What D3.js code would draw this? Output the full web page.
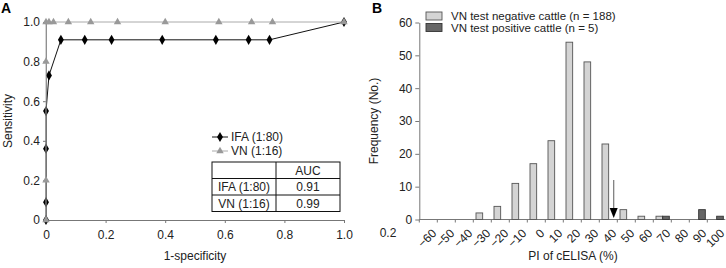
<!DOCTYPE html>
<html lang="en">
<head>
  <meta charset="UTF-8">
  <title>ROC and cELISA histogram</title>
  <script src="https://d3js.org/d3.v7.min.js"></script>
  <style>
    body { margin: 0; background: #fff; }
    svg { display: block; font-family: "Liberation Sans", Arial, sans-serif; }
    .tick text { font-size: 12px; fill: #222; }
    .axis path, .axis line { stroke: #777; }
  </style>
</head>
<body>
  <svg id="chart" width="726" height="268"></svg>

  <script>
    // Panel A: ROC curves
    const ifaFpr = [0, 0, 0, 0, 0.01, 0.05, 0.13, 0.22, 0.39, 0.57, 0.68, 0.75, 1];
    const ifaTpr = [0, 0.09, 0.36, 0.55, 0.73, 0.91, 0.91, 0.91, 0.91, 0.91, 0.91, 0.91, 1];
    const vnFpr = [0, 0, 0, 0, 0.01, 0.025, 0.075, 0.15, 0.24, 0.40, 0.58, 0.69, 0.76, 1];
    const vnTpr = [0, 0.2, 0.8, 1, 1, 1, 1, 1, 1, 1, 1, 1, 1, 1];
    const rocTicks = [0, 0.2, 0.4, 0.6, 0.8, 1.0];
    const aucRows = [["IFA (1:80)", "0.91"], ["VN (1:16)", "0.99"]];

    // Panel B: histogram of PI
    const piBins = [-60, -50, -40, -30, -20, -10, 0, 10, 20, 30, 40, 50, 60, 70, 80, 90, 100];
    const negCounts = [0, 0, 0, 2, 4, 11, 17, 24, 54, 48, 23, 3, 1, 1, 0, 0, 0];
    const posCounts = [0, 0, 0, 0, 0, 0, 0, 0, 0, 0, 0, 0, 0, 1, 0, 3, 1];
    const freqTicks = [0, 10, 20, 30, 40, 50, 60];
    const cutoff = 40;

    const svg = d3.select("#chart");

    // ---------- Panel A ----------
    const xA = d3.scaleLinear().domain([0, 1]).range([46, 344]);
    const yA = d3.scaleLinear().domain([0, 1]).range([220, 22]);
    const fmtA = d => d === 0 ? "0" : d3.format(".1f")(d);

    svg.append("g").attr("class", "axis")
      .attr("transform", "translate(0,220)")
      .call(d3.axisBottom(xA).tickValues(rocTicks).tickFormat(fmtA).tickSize(3).tickSizeOuter(0))
      .call(g => g.selectAll(".tick text").attr("dy", "1.1em"));

    svg.append("g").attr("class", "axis")
      .attr("transform", "translate(46,0)")
      .call(d3.axisLeft(yA).tickValues(rocTicks).tickFormat(fmtA).tickSize(3).tickSizeOuter(0))
      .call(g => g.selectAll(".tick text").attr("x", -6));

    const line = d3.line().x(d => xA(d[0])).y(d => yA(d[1]));
    const ifaPts = ifaFpr.map((f, i) => [f, ifaTpr[i]]);
    const vnPts = vnFpr.map((f, i) => [f, vnTpr[i]]);

    svg.append("path").datum(ifaPts).attr("d", line)
      .attr("fill", "none").attr("stroke", "#111").attr("stroke-width", 1);
    svg.append("g").selectAll("path").data(ifaPts).join("path")
      .attr("transform", d => `translate(${xA(d[0])},${yA(d[1])})`)
      .attr("d", d3.symbol(d3.symbolDiamond, 30)())
      .attr("fill", "#000");

    svg.append("path").datum(vnPts).attr("d", line)
      .attr("fill", "none").attr("stroke", "#aaa").attr("stroke-width", 1);
    svg.append("g").selectAll("path").data(vnPts).join("path")
      .attr("transform", d => `translate(${xA(d[0])},${yA(d[1])})`)
      .attr("d", d3.symbol(d3.symbolTriangle, 24)())
      .attr("fill", "#999");

    svg.append("text").attr("x", 195).attr("y", 260).attr("text-anchor", "middle")
      .attr("font-size", 12).attr("fill", "#222").text("1-specificity");
    svg.append("text").attr("transform", "translate(12,121) rotate(-90)")
      .attr("text-anchor", "middle").attr("font-size", 12).attr("fill", "#222").text("Sensitivity");
    svg.append("text").attr("x", 1).attr("y", 13).attr("font-size", 14)
      .attr("font-weight", "bold").text("A");

    // legend A
    const legA = svg.append("g");
    legA.append("line").attr("x1", 212).attr("x2", 228).attr("y1", 137).attr("y2", 137).attr("stroke", "#111");
    legA.append("path").attr("transform", "translate(220,137)").attr("d", d3.symbol(d3.symbolDiamond, 30)()).attr("fill", "#000");
    legA.append("text").attr("x", 231).attr("y", 141).attr("font-size", 12).attr("fill", "#222").text("IFA (1:80)");
    legA.append("line").attr("x1", 212).attr("x2", 228).attr("y1", 151).attr("y2", 151).attr("stroke", "#aaa");
    legA.append("path").attr("transform", "translate(220,151)").attr("d", d3.symbol(d3.symbolTriangle, 24)()).attr("fill", "#999");
    legA.append("text").attr("x", 231).attr("y", 155).attr("font-size", 12).attr("fill", "#222").text("VN (1:16)");

    // AUC table
    const tb = svg.append("g").attr("font-size", 12).attr("fill", "#222");
    const tX0 = 212, tX1 = 276, tX2 = 340, rowY = [162, 178.5, 195, 211.5];
    tb.append("rect").attr("x", tX0).attr("y", rowY[0]).attr("width", tX2 - tX0).attr("height", rowY[3] - rowY[0])
      .attr("fill", "none").attr("stroke", "#111");
    tb.append("line").attr("x1", tX1).attr("x2", tX1).attr("y1", rowY[0]).attr("y2", rowY[3]).attr("stroke", "#111");
    [rowY[1], rowY[2]].forEach(y => tb.append("line").attr("x1", tX0).attr("x2", tX2).attr("y1", y).attr("y2", y).attr("stroke", "#111"));
    tb.append("text").attr("x", (tX1 + tX2) / 2).attr("y", rowY[1] - 4).attr("text-anchor", "middle").text("AUC");
    aucRows.forEach((r, i) => {
      tb.append("text").attr("x", (tX0 + tX1) / 2).attr("y", rowY[i + 2] - 4).attr("text-anchor", "middle").text(r[0]);
      tb.append("text").attr("x", (tX1 + tX2) / 2).attr("y", rowY[i + 2] - 4).attr("text-anchor", "middle").text(r[1]);
    });

    // ---------- Panel B ----------
    const xB = d3.scaleBand().domain(piBins).range([419.3, 725.3]).padding(0);
    const bw = xB.bandwidth();
    const yB = d3.scaleLinear().domain([0, 60]).range([219.5, 22.5]);

    svg.append("g").attr("class", "axis")
      .attr("transform", "translate(419.3,0)")
      .call(d3.axisLeft(yB).tickValues(freqTicks).tickSize(4).tickSizeOuter(0))
      .call(g => g.selectAll(".tick text").attr("x", -7));

    const xAxisB = svg.append("g").attr("class", "axis");
    xAxisB.append("line").attr("x1", 419.3).attr("x2", 725.3).attr("y1", 219.5).attr("y2", 219.5);
    xAxisB.selectAll(".bt").data(piBins).join("line").attr("class", "bt")
      .attr("x1", d => xB(d)).attr("x2", d => xB(d)).attr("y1", 219.5).attr("y2", 222.5);
    xAxisB.selectAll("text").data(piBins).join("text")
      .attr("transform", d => `translate(${xB(d) + bw / 2 + 3},${228}) rotate(-45)`)
      .attr("text-anchor", "end").attr("font-size", 12).attr("fill", "#222")
      .attr("dy", "0.7em")
      .text(d => d < 0 ? "\u2212" + Math.abs(d) : d);

    svg.append("g").selectAll("rect").data(piBins.map((b, i) => [b, negCounts[i]]).filter(d => d[1] > 0)).join("rect")
      .attr("x", d => xB(d[0]) + bw * 0.15).attr("width", bw * 0.37)
      .attr("y", d => yB(d[1])).attr("height", d => yB(0) - yB(d[1]))
      .attr("fill", "#d4d4d4").attr("stroke", "#555").attr("stroke-width", 0.9);
    svg.append("g").selectAll("rect").data(piBins.map((b, i) => [b, posCounts[i]]).filter(d => d[1] > 0)).join("rect")
      .attr("x", d => xB(d[0]) + bw * 0.52).attr("width", bw * 0.37)
      .attr("y", d => yB(d[1])).attr("height", d => yB(0) - yB(d[1]))
      .attr("fill", "#666").attr("stroke", "#333").attr("stroke-width", 0.9);

    // cut-off arrow
    const arrX = xB(cutoff) + bw * 0.8;
    svg.append("line").attr("x1", arrX).attr("x2", arrX).attr("y1", 180).attr("y2", 210)
      .attr("stroke", "#777").attr("stroke-width", 1.2);
    svg.append("path").attr("d", `M${arrX - 4},${208}L${arrX + 4},${208}L${arrX},${218}Z`).attr("fill", "#000");

    svg.append("text").attr("x", 573).attr("y", 260).attr("text-anchor", "middle")
      .attr("font-size", 12).attr("fill", "#222").text("PI of cELISA (%)");
    svg.append("text").attr("transform", "translate(378,121) rotate(-90)")
      .attr("text-anchor", "middle").attr("font-size", 12).attr("fill", "#222").text("Frequency (No.)");
    svg.append("text").attr("x", 388).attr("y", 237).attr("text-anchor", "middle")
      .attr("font-size", 12).attr("fill", "#222").text("0.2");
    svg.append("text").attr("x", 372).attr("y", 13).attr("font-size", 14)
      .attr("font-weight", "bold").text("B");

    // legend B
    const legB = [["VN test negative cattle (n = 188)", "#d4d4d4", "#555"], ["VN test positive cattle (n = 5)", "#666", "#333"]];
    legB.forEach((l, i) => {
      svg.append("rect").attr("x", 426).attr("y", 12 + i * 11.5).attr("width", 16).attr("height", 8)
        .attr("fill", l[1]).attr("stroke", l[2]).attr("stroke-width", 0.9);
      svg.append("text").attr("x", 451).attr("y", 20 + i * 12).attr("font-size", 11.5).attr("fill", "#222").text(l[0]);
    });
  </script>
</body>
</html>
